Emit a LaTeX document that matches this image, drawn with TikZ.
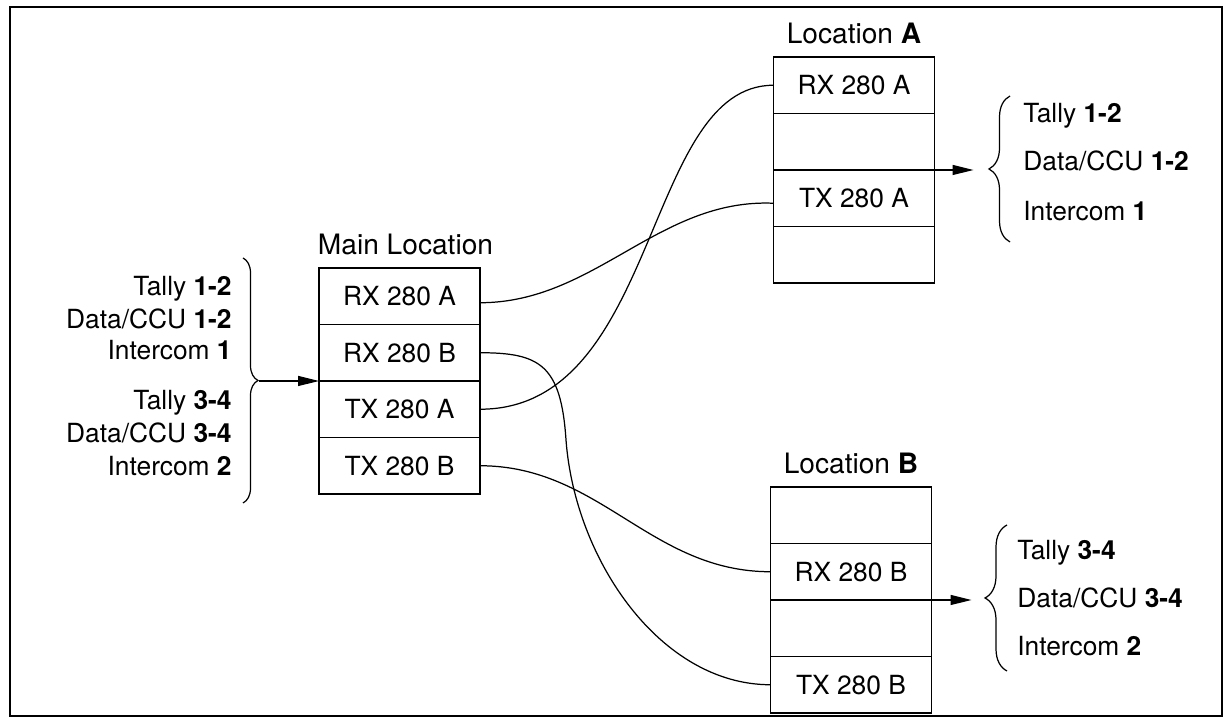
\documentclass[tikz,border=0pt]{standalone}
\usepackage{fontspec}
\setmainfont{TeX Gyre Heros}
\usetikzlibrary{positioning,arrows.meta,calc,decorations.pathreplacing}

\begin{document}
\begin{tikzpicture}[
  font=\fontsize{15}{18}\selectfont,
  slot/.style={draw=black, line width=0.7pt, minimum width=3.22cm, minimum height=1.13cm, inner sep=0pt, outer sep=0pt, align=center},
  title/.style={font=\fontsize{16}{19}\selectfont},
  lbl/.style={inner sep=0pt},
  curly/.style={decorate, decoration={brace, amplitude=#1}, line width=0.7pt},
  wire/.style={line width=0.7pt},
  arr/.style={-{Triangle[length=4.2mm,width=2mm]}, line width=0.7pt}
]
\useasboundingbox (0,0) rectangle (24.54,14.36);
\draw[line width=0.8pt] (0.2,0.04) rectangle (24.44,14.22);

% ---------- Main Location ----------
\node[slot] (mrxa) at (7.99,8.435) {RX 280 A};
\node[slot, below=0pt of mrxa] (mrxb) {RX 280 B};
\node[slot, below=0pt of mrxb] (mtxa) {TX 280 A};
\node[slot, below=0pt of mtxa] (mtxb) {TX 280 B};
\node[title, above=0.14cm of mrxa, xshift=0.12cm] (mtitle) {Main Location};

% ---------- Location A ----------
\node[slot] (larxa) at (17.08,12.655) {RX 280 A};
\node[slot, below=0pt of larxa] (laone) {};
\node[slot, below=0pt of laone] (latxa) {TX 280 A};
\node[slot, below=0pt of latxa] (latwo) {};
\node[title, above=0.14cm of larxa] (latitle) {Location \textbf{A}};

% ---------- Location B ----------
\node[slot] (lbone) at (17.02,4.055) {};
\node[slot, below=0pt of lbone] (lbrxb) {RX 280 B};
\node[slot, below=0pt of lbrxb] (lbtwo) {};
\node[slot, below=0pt of lbtwo] (lbtxb) {TX 280 B};
\node[title, above=0.14cm of lbone] (lbtitle) {Location \textbf{B}};

% ---------- signals into main ----------
\node[lbl, anchor=base east] (intally12) at (4.64,8.44) {Tally \textbf{1-2}};
\node[lbl, anchor=base east] (indata12)  at (4.64,7.78) {Data/CCU \textbf{1-2}};
\node[lbl, anchor=base east] (inicom1)   at (4.64,7.16) {Intercom \textbf{1}};
\node[lbl, anchor=base east] (intally34) at (4.64,6.16) {Tally \textbf{3-4}};
\node[lbl, anchor=base east] (indata34)  at (4.64,5.50) {Data/CCU \textbf{3-4}};
\node[lbl, anchor=base east] (inicom2)   at (4.64,4.84) {Intercom \textbf{2}};
\draw[curly=0.3cm] (4.86,9.20) -- (4.86,4.30);
\coordinate (intip) at ($(mrxb.south west)+(-1.2,0)$);
\draw[arr] (intip) -- (mrxb.south west);

% ---------- signals out of A and B ----------
\coordinate (atip) at ($(laone.south east)+(0.78,0)$);
\draw[arr] (laone.south east) -- (atip);
\draw[curly=0.42cm] (20.2,9.52) -- (20.2,12.44);
\node[lbl, anchor=base west] (atally) at (20.46,11.90) {Tally \textbf{1-2}};
\node[lbl, anchor=base west] (adata)  at (20.46,10.94) {Data/CCU \textbf{1-2}};
\node[lbl, anchor=base west] (aicom)  at (20.46,9.94)  {Intercom \textbf{1}};

\coordinate (btip) at ($(lbrxb.south east)+(0.8,0)$);
\draw[arr] (lbrxb.south east) -- (btip);
\draw[curly=0.44cm] (20.14,0.94) -- (20.14,3.86);
\node[lbl, anchor=base west] (btally) at (20.34,3.16) {Tally \textbf{3-4}};
\node[lbl, anchor=base west] (bdata)  at (20.34,2.20) {Data/CCU \textbf{3-4}};
\node[lbl, anchor=base west] (bicom)  at (20.34,1.24) {Intercom \textbf{2}};

% ---------- links ----------
\draw[wire] ($(mrxa.east)+(0,-0.13)$) .. controls +(2.3,0) and +(-2.3,0.1) .. ($(latxa.west)+(0,-0.1)$);
\draw[wire] (mtxa.east) .. controls +(3.6,0) and +(-2.6,0) .. (larxa.west);
\coordinate (bendb) at (11.32,5.56);
\draw[wire] (mrxb.east) .. controls +(1.2,0) and +(-0.1,1.5) .. (bendb)
  .. controls +(0.18,-2.4) and +(-2.2,0) .. (lbtxb.west);
\draw[wire] (mtxb.east) .. controls +(2.4,0) and +(-2.4,0) .. (lbrxb.west);

\end{tikzpicture}
\end{document}
